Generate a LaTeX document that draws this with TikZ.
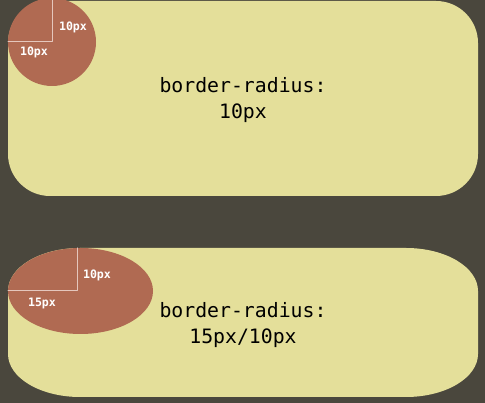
\documentclass[tikz,border=0pt]{standalone}
\usepackage{fontspec}
\setmonofont{DejaVu Sans Mono}
\usetikzlibrary{positioning}
\definecolor{bgdark}{rgb}{0.29,0.28,0.24}
\definecolor{boxyel}{rgb}{0.894,0.875,0.604}
\definecolor{cornbr}{rgb}{0.69,0.416,0.322}
\definecolor{radln}{rgb}{0.9,0.78,0.74}
\tikzset{
  bigtxt/.style={font=\ttfamily\fontsize{19.8}{24}\selectfont,text=black,anchor=base,inner sep=0pt},
  smalltxt/.style={font=\ttfamily\bfseries\fontsize{11.6}{13}\selectfont,text=white,inner sep=0pt},
  radius line/.style={draw=radln,line width=1pt}
}

\begin{document}
\begin{tikzpicture}[line cap=round,line join=round,x=1pt,y=1pt]
		\fill[bgdark] (0,0) rectangle (485,403);
		\useasboundingbox (0,0) rectangle (485,403);
		\clip (0,0) rectangle (485,403);
		% upper box, same radius everywhere
			\fill[boxyel,rounded corners=42pt] (8,207) rectangle (478,402);
			\fill[cornbr] (52,361) circle (44);
			\coordinate (c1) at (52,361);
			\coordinate (c1top) at (52,403);
			\coordinate (c1left) at (8,361);
			\draw[radius line] (c1top) -- (c1) -- (c1left);
			\node[smalltxt] (c1v) at (73,376) {10px};
			\node[smalltxt] (c1h) at (34,351) {10px};
			\node[bigtxt] (t1a) at (243,310) {border-radius:};
			\node[bigtxt] (t1b) at (243,284) {10px};
		% lower box, elliptic corners
			\fill[boxyel] (80,155) -- (406,155)
				arc[start angle=90,end angle=0,x radius=72,y radius=43] -- (478,49)
				arc[start angle=0,end angle=-90,x radius=72,y radius=43] -- (80,6)
				arc[start angle=270,end angle=180,x radius=72,y radius=43] -- (8,112)
				arc[start angle=180,end angle=90,x radius=72,y radius=43] -- cycle;
			\fill[cornbr] (80.5,112) ellipse [x radius=72.5,y radius=43];
			\coordinate (c2) at (77,112);
			\coordinate (c2top) at (77,155);
			\coordinate (c2left) at (8,112);
			\draw[radius line] (c2top) -- (c2) -- (c2left);
			\node[smalltxt] (c2v) at (97,128) {10px};
			\node[smalltxt] (c2h) at (42,100) {15px};
			\node[bigtxt] (t2a) at (243,85) {border-radius:};
			\node[bigtxt] (t2b) at (243,59) {15px/10px};
	\end{tikzpicture}
\end{document}
